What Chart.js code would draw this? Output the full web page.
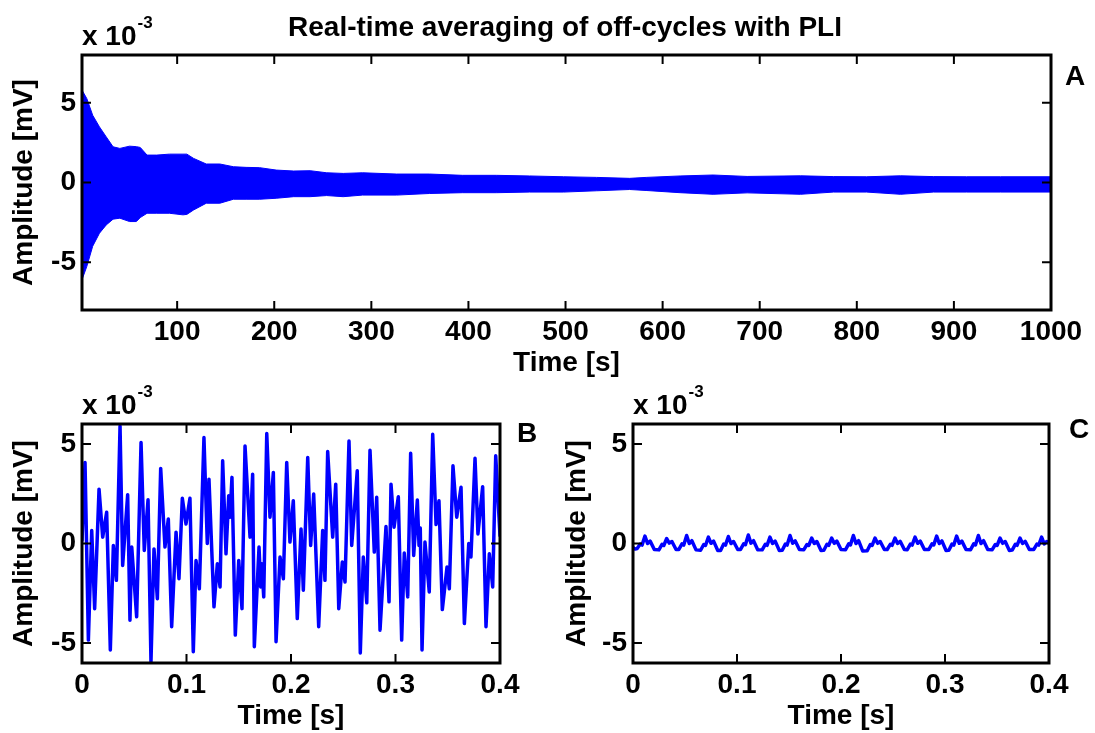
<!DOCTYPE html>
<html>
<head>
<meta charset="utf-8">
<title>Real-time averaging of off-cycles with PLI</title>
<script src="https://cdn.jsdelivr.net/npm/chart.js@4.4.1/dist/chart.umd.min.js"></script>
<style>
  html, body { margin: 0; padding: 0; background: #fff; }
  #wrap { position: relative; width: 1095px; height: 733px; overflow: hidden; }
  canvas { position: absolute; }
</style>
</head>
<body>
<div id="wrap">
  <canvas id="chartA" width="1095" height="380" style="left:0;top:0"></canvas>
  <canvas id="chartB" width="548" height="353" style="left:0;top:380px"></canvas>
  <canvas id="chartC" width="547" height="353" style="left:548px;top:380px"></canvas>
</div>
<script>
// Panel A : envelope of the averaged signal (values in 10^-3 mV)
const timeA = [2, 7, 13, 20, 27, 34, 41, 51, 58, 62, 69, 79, 92, 106, 110, 117, 130, 144, 158, 171,
  185, 202, 220, 237, 254, 271, 291, 326, 360, 394, 429, 463, 498, 532, 566, 583, 618, 652, 687,
  742, 776, 810, 845, 879, 913, 948, 1000];
const upperA = [5.8, 5.26, 4.22, 3.49, 2.86, 2.24, 2.14, 2.28, 2.25, 2.2, 1.72, 1.72, 1.78, 1.78, 1.78,
  1.51, 1.16, 1.16, 0.99, 0.95, 0.93, 0.78, 0.72, 0.74, 0.61, 0.57, 0.61, 0.53, 0.53, 0.45, 0.45,
  0.41, 0.36, 0.32, 0.26, 0.32, 0.41, 0.47, 0.38, 0.42, 0.37, 0.36, 0.42, 0.37, 0.36, 0.36, 0.36];
const lowerA = [-6.1, -5.26, -4.0, -3.18, -2.66, -2.3, -2.24, -2.45, -2.45, -2.2, -1.93, -1.93, -1.93,
  -2.03, -2.0, -1.72, -1.3, -1.3, -1.05, -1.05, -1.05, -0.99, -0.89, -0.89, -0.82, -0.89, -0.79,
  -0.79, -0.69, -0.64, -0.64, -0.6, -0.6, -0.52, -0.44, -0.5, -0.64, -0.74, -0.65, -0.74, -0.6,
  -0.6, -0.74, -0.6, -0.6, -0.6, -0.6];
const xTicksA = [100, 200, 300, 400, 500, 600, 700, 800, 900, 1000];
const yTicksA = [-5, 0, 5];

// Panel B : without averaging (10^-3 mV)
const timeB = [0.0000, 0.0029, 0.0061, 0.0093, 0.0121, 0.0163, 0.0198, 0.0236, 0.0271, 0.0300,
  0.0329, 0.0364, 0.0389, 0.0437, 0.0459, 0.0476, 0.0523, 0.0565, 0.0596, 0.0632,
  0.0660, 0.0689, 0.0721, 0.0753, 0.0794, 0.0826, 0.0858, 0.0900, 0.0928, 0.0960,
  0.0995, 0.1033, 0.1065, 0.1091, 0.1123, 0.1167, 0.1199, 0.1215, 0.1263, 0.1295,
  0.1321, 0.1346, 0.1378, 0.1404, 0.1416, 0.1435, 0.1467, 0.1500, 0.1531, 0.1560,
  0.1608, 0.1633, 0.1649, 0.1694, 0.1710, 0.1720, 0.1739, 0.1768, 0.1799, 0.1831,
  0.1857, 0.1895, 0.1927, 0.1959, 0.1990, 0.2022, 0.2060, 0.2096, 0.2118, 0.2160,
  0.2188, 0.2217, 0.2265, 0.2303, 0.2325, 0.2351, 0.2399, 0.2428, 0.2457, 0.2491,
  0.2517, 0.2555, 0.2581, 0.2634, 0.2663, 0.2692, 0.2725, 0.2756, 0.2797, 0.2820,
  0.2852, 0.2909, 0.2938, 0.2957, 0.2986, 0.3027, 0.3059, 0.3084, 0.3117, 0.3145,
  0.3174, 0.3209, 0.3225, 0.3237, 0.3254, 0.3282, 0.3323, 0.3356, 0.3388, 0.3416,
  0.3448, 0.3493, 0.3515, 0.3550, 0.3586, 0.3627, 0.3659, 0.3701, 0.3722, 0.3761,
  0.3789, 0.3834, 0.3866, 0.3898, 0.3930, 0.3959, 0.4000];
const ampB = [0.15, 4.07, -4.85, 0.65, -3.27, 2.73, 0.32, 1.57, -5.35, -0.10,
  -1.85, 5.90, -1.10, 2.45, -3.85, -0.18, -3.68, 5.07, -0.35, 2.20,
  -5.93, -0.27, -2.77, 3.77, -0.18, 1.23, -4.18, 0.57, -1.77, 2.27,
  0.98, 2.27, -5.43, -0.85, -2.27, 5.32, 0.00, 3.23, -3.18, -1.02,
  -2.18, 4.15, -0.52, 2.40, 1.32, 3.32, -4.60, -0.85, -3.27, 4.90,
  0.32, 3.48, -5.18, -0.18, -2.18, -1.02, -2.68, 5.52, 1.32, 3.57,
  -4.93, -0.68, -1.77, 4.07, 0.07, 2.15, -3.77, 0.73, -2.35, 4.32,
  -0.10, 2.48, -4.18, 0.65, -1.85, 4.62, 0.32, 2.98, -3.27, -0.93,
  -1.93, 5.15, -0.10, 3.65, -5.50, -0.68, -2.98, 4.68, -0.43, 2.32,
  -4.35, 0.85, -2.93, 2.98, 0.82, 2.35, -4.85, -0.48, -2.68, 4.53,
  -0.60, 2.18, -0.10, 0.78, -5.35, 0.07, -2.43, 5.48, 0.95, 2.15,
  -3.32, -1.18, -2.27, 3.90, 1.32, 2.82, -4.02, 0.00, -0.68, 4.28,
  0.48, 2.85, -4.18, -0.52, -2.18, 4.40, 0.40];

// Panel C : after averaging (10^-3 mV), one line per PLI cycle
const timeC = [0.0000, 0.0020,
  0.0040, 0.0070, 0.0087, 0.0115, 0.0140, 0.0165, 0.0205,
  0.0249, 0.0279, 0.0296, 0.0324, 0.0349, 0.0374, 0.0414,
  0.0441, 0.0471, 0.0488, 0.0516, 0.0541, 0.0566, 0.0606,
  0.0650, 0.0680, 0.0697, 0.0725, 0.0750, 0.0775, 0.0815,
  0.0842, 0.0872, 0.0889, 0.0917, 0.0942, 0.0967, 0.1007,
  0.1034, 0.1064, 0.1081, 0.1109, 0.1134, 0.1159, 0.1199,
  0.1242, 0.1272, 0.1289, 0.1317, 0.1342, 0.1367, 0.1407,
  0.1435, 0.1465, 0.1482, 0.1510, 0.1535, 0.1560, 0.1600,
  0.1643, 0.1673, 0.1690, 0.1718, 0.1743, 0.1768, 0.1808,
  0.1835, 0.1865, 0.1882, 0.1910, 0.1935, 0.1960, 0.2000,
  0.2044, 0.2074, 0.2091, 0.2119, 0.2144, 0.2169, 0.2209,
  0.2252, 0.2282, 0.2299, 0.2327, 0.2352, 0.2377, 0.2417,
  0.2444, 0.2474, 0.2491, 0.2519, 0.2544, 0.2569, 0.2609,
  0.2637, 0.2667, 0.2684, 0.2712, 0.2737, 0.2762, 0.2802,
  0.2845, 0.2875, 0.2892, 0.2920, 0.2945, 0.2970, 0.3010,
  0.3037, 0.3067, 0.3084, 0.3112, 0.3137, 0.3162, 0.3202,
  0.3246, 0.3276, 0.3293, 0.3321, 0.3346, 0.3371, 0.3411,
  0.3454, 0.3484, 0.3501, 0.3529, 0.3554, 0.3579, 0.3619,
  0.3646, 0.3676, 0.3693, 0.3721, 0.3746, 0.3771, 0.3811,
  0.3854, 0.3884, 0.3901, 0.3929, 0.3954, 0.3978, 0.4000];
const ampC = [-0.20, -0.28,
  -0.25, -0.03, -0.08, 0.37, 0.00, 0.12, -0.30,
  -0.32, -0.04, -0.10, 0.25, 0.02, 0.10, -0.30,
  -0.30, -0.02, -0.08, 0.40, 0.00, 0.14, -0.32,
  -0.34, -0.05, -0.10, 0.32, 0.01, 0.12, -0.35,
  -0.35, -0.03, -0.08, 0.35, 0.00, 0.10, -0.30,
  -0.30, -0.02, -0.06, 0.43, 0.02, 0.14, -0.31,
  -0.32, -0.04, -0.09, 0.32, 0.00, 0.12, -0.35,
  -0.34, -0.03, -0.08, 0.40, 0.01, 0.13, -0.30,
  -0.31, -0.05, -0.10, 0.27, 0.00, 0.10, -0.35,
  -0.34, -0.04, -0.09, 0.27, 0.01, 0.12, -0.30,
  -0.31, -0.02, -0.07, 0.40, 0.00, 0.14, -0.38,
  -0.36, -0.05, -0.10, 0.27, 0.01, 0.10, -0.30,
  -0.30, -0.04, -0.09, 0.27, 0.00, 0.11, -0.30,
  -0.31, -0.03, -0.08, 0.32, 0.01, 0.12, -0.30,
  -0.30, -0.02, -0.07, 0.37, 0.00, 0.13, -0.35,
  -0.34, -0.03, -0.08, 0.37, 0.01, 0.12, -0.30,
  -0.31, -0.02, -0.07, 0.40, 0.00, 0.14, -0.30,
  -0.31, -0.05, -0.10, 0.27, 0.01, 0.10, -0.35,
  -0.33, -0.04, -0.09, 0.27, 0.00, 0.11, -0.30,
  -0.30, -0.03, -0.08, 0.32, -0.02, 0.10, 0.02];
const xTicksBC = [0, 0.1, 0.2, 0.3, 0.4];
const yTicksBC = [-5, 0, 5];

const BLUE = '#0000ff';
const FONT = '"Liberation Sans", Arial, Helvetica, sans-serif';
Chart.defaults.font.family = FONT;
Chart.defaults.color = '#000';

// box, inner ticks on 4 sides, "x 10^-3" and panel letter
const framePlugin = {
  id: 'frame',
  afterDraw(chart, args, opts) {
    const { ctx, chartArea: a } = chart;
    const x = chart.scales.x, y = chart.scales.y;
    const tl = 9;
    ctx.save();
    ctx.strokeStyle = '#000';
    ctx.lineWidth = 2;
    ctx.beginPath();
    x.ticks.forEach(t => {
      const px = x.getPixelForValue(t.value);
      ctx.moveTo(px, a.bottom); ctx.lineTo(px, a.bottom - tl);
      ctx.moveTo(px, a.top); ctx.lineTo(px, a.top + tl);
    });
    y.ticks.forEach(t => {
      const py = y.getPixelForValue(t.value);
      ctx.moveTo(a.left, py); ctx.lineTo(a.left + tl, py);
      ctx.moveTo(a.right, py); ctx.lineTo(a.right - tl, py);
    });
    ctx.stroke();
    ctx.lineWidth = 3;
    ctx.strokeRect(a.left, a.top, a.right - a.left, a.bottom - a.top);

    ctx.fillStyle = '#000';
    ctx.textAlign = 'left';
    ctx.textBaseline = 'alphabetic';
    ctx.font = 'bold 28px ' + FONT;
    ctx.fillText('x 10', a.left, a.top - 10);
    const w = ctx.measureText('x 10').width;
    ctx.font = 'bold 17px ' + FONT;
    ctx.fillText('-3', a.left + w + 1, a.top - 27);

    ctx.font = 'bold 28px ' + FONT;
    ctx.textAlign = 'center';
    ctx.textBaseline = 'middle';
    ctx.fillText(opts.letter, a.right + opts.dx, a.top + opts.dy);
    if (opts.title) {
      ctx.fillText(opts.title, opts.titleX, opts.titleY);
    }
    ctx.restore();
  }
};

function axes(xMin, xMax, xTicks, yMin, yMax, yTicks, yWidth, xHeight, yTitlePad, xTitlePad) {
  const tickFont = { size: 28, weight: 'bold' };
  return {
    x: {
      type: 'linear', min: xMin, max: xMax,
      afterBuildTicks: s => { s.ticks = xTicks.map(v => ({ value: v })); },
      afterFit: s => { s.height = xHeight; },
      grid: { display: false, drawTicks: false },
      border: { display: false },
      ticks: { font: tickFont, padding: 5, maxRotation: 0, autoSkip: false, callback: v => String(v) },
      title: { display: true, text: 'Time [s]', font: tickFont, padding: { top: 0, bottom: xTitlePad } }
    },
    y: {
      type: 'linear', min: yMin, max: yMax,
      afterBuildTicks: s => { s.ticks = yTicks.map(v => ({ value: v })); },
      afterFit: s => { s.width = yWidth; },
      grid: { display: false, drawTicks: false },
      border: { display: false },
      ticks: { font: tickFont, padding: 6, autoSkip: false, callback: v => String(v) },
      title: { display: true, text: 'Amplitude [mV]', font: tickFont, padding: { top: yTitlePad, bottom: 0 } }
    }
  };
}

const common = {
  responsive: false,
  animation: false,
  devicePixelRatio: 1,
  events: [],
  elements: { point: { radius: 0 }, line: { tension: 0 } }
};

const pts = (xs, ys) => xs.map((t, i) => ({ x: t, y: ys[i] }));

// Panel A
new Chart(document.getElementById('chartA'), {
  type: 'line',
  data: {
    datasets: [
      { data: pts(timeA, upperA), borderColor: BLUE, backgroundColor: BLUE, borderWidth: 1, fill: '+1' },
      { data: pts(timeA, lowerA), borderColor: BLUE, backgroundColor: BLUE, borderWidth: 1, fill: false }
    ]
  },
  options: Object.assign({}, common, {
    layout: { padding: { left: 0, right: 44, top: 55, bottom: 0 } },
    scales: axes(2, 1000, xTicksA, -8, 8, yTicksA, 82, 70, 7, 0),
    plugins: {
      legend: { display: false },
      tooltip: { enabled: false },
      frame: { letter: 'A', dx: 24, dy: 22, title: 'Real-time averaging of off-cycles with PLI', titleX: 565, titleY: 28 }
    }
  }),
  plugins: [framePlugin]
});

// Panel B
new Chart(document.getElementById('chartB'), {
  type: 'line',
  data: {
    datasets: [{ data: pts(timeB, ampB), borderColor: BLUE, borderWidth: 3.5, fill: false,
      borderJoinStyle: 'round', borderCapStyle: 'round' }]
  },
  options: Object.assign({}, common, {
    layout: { padding: { left: 0, right: 48, top: 44, bottom: 0 } },
    scales: axes(0, 0.4, xTicksBC, -6, 6, yTicksBC, 82, 70, 7, 0),
    plugins: {
      legend: { display: false },
      tooltip: { enabled: false },
      frame: { letter: 'B', dx: 27, dy: 10 }
    }
  }),
  plugins: [framePlugin]
});

// Panel C
new Chart(document.getElementById('chartC'), {
  type: 'line',
  data: {
    datasets: [{ data: pts(timeC, ampC), borderColor: BLUE, borderWidth: 3.5, fill: false,
      borderJoinStyle: 'round', borderCapStyle: 'round' }]
  },
  options: Object.assign({}, common, {
    layout: { padding: { left: 0, right: 46, top: 44, bottom: 0 } },
    scales: axes(0, 0.4, xTicksBC, -6, 6, yTicksBC, 85, 70, 12, 0),
    plugins: {
      legend: { display: false },
      tooltip: { enabled: false },
      frame: { letter: 'C', dx: 30, dy: 6 }
    }
  }),
  plugins: [framePlugin]
});
</script>
</body>
</html>
